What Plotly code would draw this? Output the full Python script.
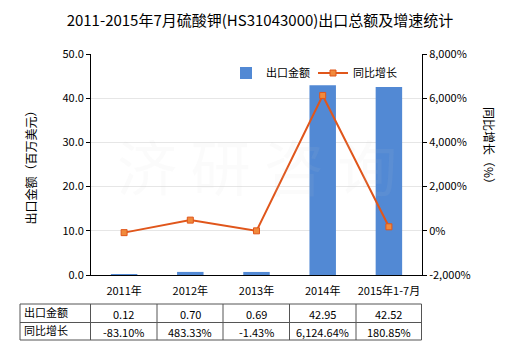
import plotly.graph_objects as go

# Export value (million USD) and year-on-year growth (%)
categories = ["2011年", "2012年", "2013年", "2014年", "2015年1-7月"]
export_value = [0.12, 0.70, 0.69, 42.95, 42.52]
growth_pct = [-83.10, 483.33, -1.43, 6124.64, 180.85]
value_labels = ["0.12", "0.70", "0.69", "42.95", "42.52"]
growth_labels = ["-83.10%", "483.33%", "-1.43%", "6,124.64%", "180.85%"]
left_ticks = [0, 10, 20, 30, 40, 50]
right_ticks = [-2000, 0, 2000, 4000, 6000, 8000]

W, H = 520, 350
L, R, T, B = 91, 422, 54, 275
FONT = "Noto Sans CJK SC, Microsoft YaHei, sans-serif"
BAR = "#5289D4"
LINE = "#E0561B"


def px(x):
    return (x - L) / (R - L)


def py(y):
    return (B - y) / (B - T)


fig = go.Figure()
fig.add_trace(go.Bar(
    x=categories, y=export_value, name="出口金额",
    marker=dict(color=BAR, line=dict(width=0)), width=0.4,
))
fig.add_trace(go.Scatter(
    x=categories, y=growth_pct, name="同比增长", yaxis="y2",
    mode="lines+markers",
    line=dict(color=LINE, width=2),
    marker=dict(symbol="square", size=6, color="#F08A3C", line=dict(color=LINE, width=1)),
))

shapes = []
annotations = []

# Table grid below the chart
col_edges = [20, 90.5, 157, 223, 289.5, 356, 421.5]
row_edges = [304, 322.5, 340]
for xe in col_edges:
    shapes.append(dict(type="line", xref="paper", yref="paper",
                       x0=px(xe), x1=px(xe), y0=py(row_edges[0]), y1=py(row_edges[-1]),
                       line=dict(color="#555555", width=1)))
for ye in row_edges:
    shapes.append(dict(type="line", xref="paper", yref="paper",
                       x0=px(col_edges[0]), x1=px(col_edges[-1]), y0=py(ye), y1=py(ye),
                       line=dict(color="#555555", width=1)))

row_titles = ["出口金额", "同比增长"]
rows = [value_labels, growth_labels]
for r in range(2):
    yc = (row_edges[r] + row_edges[r + 1]) / 2
    annotations.append(dict(text=row_titles[r], xref="paper", yref="paper",
                            x=px(22), y=py(yc - 1), xanchor="left", yanchor="middle",
                            showarrow=False, font=dict(size=11, color="#000", family=FONT)))
    for c, txt in enumerate(rows[r]):
        xc = (col_edges[c + 1] + col_edges[c + 2]) / 2
        annotations.append(dict(text=txt, xref="paper", yref="paper",
                                x=px(xc), y=py(yc + 1), xanchor="center", yanchor="middle",
                                showarrow=False, font=dict(size=11, color="#000", family=FONT)))

# Faint watermark
annotations.append(dict(text="济 研 咨 询", xref="paper", yref="paper", x=0.5, y=0.5,
                        showarrow=False, font=dict(size=60, color="rgba(200,200,200,0.08)", family=FONT)))

# Axis titles
annotations.append(dict(text="出口金额（百万美元）", xref="paper", yref="paper",
                        x=px(30), y=0.5, textangle=-90, showarrow=False,
                        xanchor="center", yanchor="middle",
                        font=dict(size=12, color="#000", family=FONT)))
annotations.append(dict(text="同比增长（%）", xref="paper", yref="paper",
                        x=px(490), y=py(148), textangle=90, showarrow=False,
                        xanchor="center", yanchor="middle",
                        font=dict(size=12, color="#000", family=FONT)))

fig.update_layout(
    width=W, height=H,
    margin=dict(l=L, r=W - R, t=T, b=H - B, pad=0),
    paper_bgcolor="white", plot_bgcolor="white",
    font=dict(family=FONT, size=11, color="#000"),
    title=dict(text="2011-2015年7月硫酸钾(HS31043000)出口总额及增速统计",
               x=0.5, xanchor="center", y=1 - 21 / H, yanchor="middle",
               font=dict(size=15, color="#000", family=FONT)),
    showlegend=True,
    legend=dict(orientation="h", x=px(226), y=py(73), xanchor="left", yanchor="middle",
                font=dict(size=11, family=FONT), bgcolor="rgba(0,0,0,0)",
                itemwidth=30, traceorder="normal",
                entrywidth=42, entrywidthmode="pixels"),
    bargap=0.6,
    xaxis=dict(type="category", range=[-0.5, 4.5], showgrid=False,
               showline=True, linecolor="#000", linewidth=1,
               ticks="", ticklabelstandoff=6, tickfont=dict(size=11, family=FONT)),
    yaxis=dict(range=[0, 50], tickvals=left_ticks,
               ticktext=[f"{v:.1f}" for v in left_ticks],
               showgrid=True, gridcolor="#E6E6E6", gridwidth=1,
               showline=True, linecolor="#000", linewidth=1,
               ticks="outside", ticklen=4, tickcolor="#000",
               tickfont=dict(size=11, family=FONT), zeroline=False),
    yaxis2=dict(range=[-2000, 8000], tickvals=right_ticks,
                ticktext=[f"{v:,}%" for v in right_ticks],
                overlaying="y", side="right", showgrid=False,
                showline=True, linecolor="#000", linewidth=1,
                ticks="outside", ticklen=4, tickcolor="#000",
                tickfont=dict(size=11, family=FONT), zeroline=False),
    shapes=shapes,
    annotations=annotations,
)

fig.write_html("out.html")
